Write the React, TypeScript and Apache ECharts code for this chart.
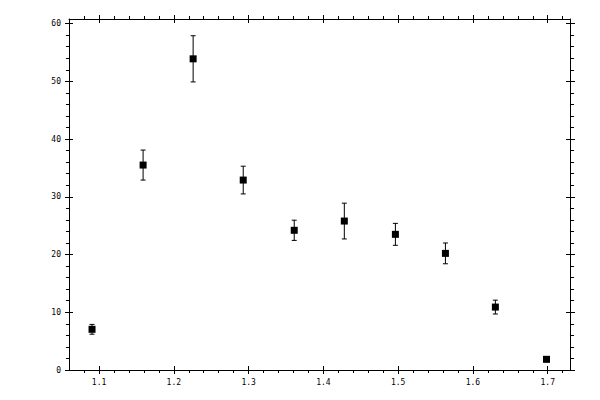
import { useEffect, useRef } from 'react';
import * as echarts from 'echarts';

// measured points (x, y) with symmetric error
const xValues = [1.0906, 1.1589, 1.2258, 1.2928, 1.361, 1.428, 1.4963, 1.5632, 1.63, 1.6984];
const yValues = [7.05, 35.5, 53.9, 32.9, 24.2, 25.8, 23.5, 20.2, 10.9, 1.85];
const yErrors = [0.85, 2.6, 4.0, 2.4, 1.75, 3.1, 1.9, 1.8, 1.2, 0.4];

// axes
const xRange = [1.0598, 1.7298];
const xMajor = [1.1, 1.2, 1.3, 1.4, 1.5, 1.6, 1.7];
const xMinor = [1.08, 1.12, 1.14, 1.16, 1.18, 1.22, 1.24, 1.26, 1.28, 1.32, 1.34, 1.36, 1.38,
  1.42, 1.44, 1.46, 1.48, 1.52, 1.54, 1.56, 1.58, 1.62, 1.64, 1.66, 1.68, 1.72];
const yRange = [0, 60.8];
const yMajor = [0, 10, 20, 30, 40, 50, 60];
const yMinor = [2, 4, 6, 8, 12, 14, 16, 18, 22, 24, 26, 28, 32, 34, 36, 38, 42, 44, 46, 48, 52, 54, 56, 58];

const FONT = { fontFamily: 'DejaVu Sans Mono', fontSize: 8, color: '#000' };

/** 一条坐标轴的某一层：主刻度朝外/朝内、次刻度、或只画轴线和标签。 */
function layer(kind: 'x' | 'y', position: string, ticks: number[], opts: {
  line?: boolean; inside?: boolean; len: number; labels?: boolean;
}) {
  const [min, max] = kind === 'x' ? xRange : yRange;
  return {
    type: 'value',
    position,
    min,
    max,
    splitLine: { show: false },
    axisLine: { show: !!opts.line, onZero: false, lineStyle: { color: '#000', width: 1 } },
    axisTick: {
      show: true,
      inside: !!opts.inside,
      length: opts.len,
      customValues: ticks,
      lineStyle: { color: '#000', width: 1 },
    },
    axisLabel: opts.labels
      ? {
          show: true,
          customValues: ticks,
          margin: 8,
          formatter: (v: number) => (kind === 'x' ? v.toFixed(1) : String(Math.round(v))),
          ...FONT,
        }
      : { show: false },
  };
}

export default function App() {
  const ref = useRef<HTMLDivElement>(null);

  useEffect(() => {
    if (!ref.current) return;
    const chart = echarts.init(ref.current, null, { renderer: 'svg' });
    const points = xValues.map((x, i) => [x, yValues[i], yErrors[i]]);

    chart.setOption({
      animation: false,
      backgroundColor: '#fff',
      grid: { left: 69, right: 30, top: 19, bottom: 30 },
      xAxis: [
        layer('x', 'bottom', xMajor, { line: true, len: 4, labels: true }),
        layer('x', 'bottom', xMajor, { inside: true, len: 4 }),
        layer('x', 'bottom', xMinor, { len: 3 }),
        layer('x', 'top', xMajor, { line: true, len: 4 }),
        layer('x', 'top', xMajor, { inside: true, len: 4 }),
        layer('x', 'top', xMinor, { len: 3 }),
      ],
      yAxis: [
        layer('y', 'left', yMajor, { line: true, len: 4, labels: true }),
        layer('y', 'left', yMajor, { inside: true, len: 4 }),
        layer('y', 'left', yMinor, { len: 3 }),
        layer('y', 'right', yMajor, { line: true, len: 5 }),
        layer('y', 'right', yMajor, { inside: true, len: 4 }),
        layer('y', 'right', yMinor, { len: 4 }),
      ],
      series: [
        {
          type: 'custom',
          xAxisIndex: 0,
          yAxisIndex: 0,
          data: points,
          renderItem: (_p: any, api: any) => {
            const x = api.value(0), y = api.value(1), e = api.value(2);
            const lo = api.coord([x, y - e]);
            const hi = api.coord([x, y + e]);
            const style = { stroke: '#000', lineWidth: 1 };
            return {
              type: 'group',
              children: [
                { type: 'line', shape: { x1: lo[0], y1: lo[1], x2: hi[0], y2: hi[1] }, style },
                { type: 'line', shape: { x1: lo[0] - 2.5, y1: lo[1], x2: lo[0] + 2.5, y2: lo[1] }, style },
                { type: 'line', shape: { x1: hi[0] - 2.5, y1: hi[1], x2: hi[0] + 2.5, y2: hi[1] }, style },
              ],
            };
          },
          z: 2,
        },
        {
          type: 'scatter',
          xAxisIndex: 0,
          yAxisIndex: 0,
          data: points.map((p) => [p[0], p[1]]),
          symbol: 'rect',
          symbolSize: 7,
          itemStyle: { color: '#000', opacity: 1 },
          z: 3,
        },
      ],
    });

    return () => chart.dispose();
  }, []);

  return (
    <div
      ref={ref}
      style={{ position: 'fixed', left: 0, top: 0, width: 600, height: 400, background: '#fff' }}
    />
  );
}
